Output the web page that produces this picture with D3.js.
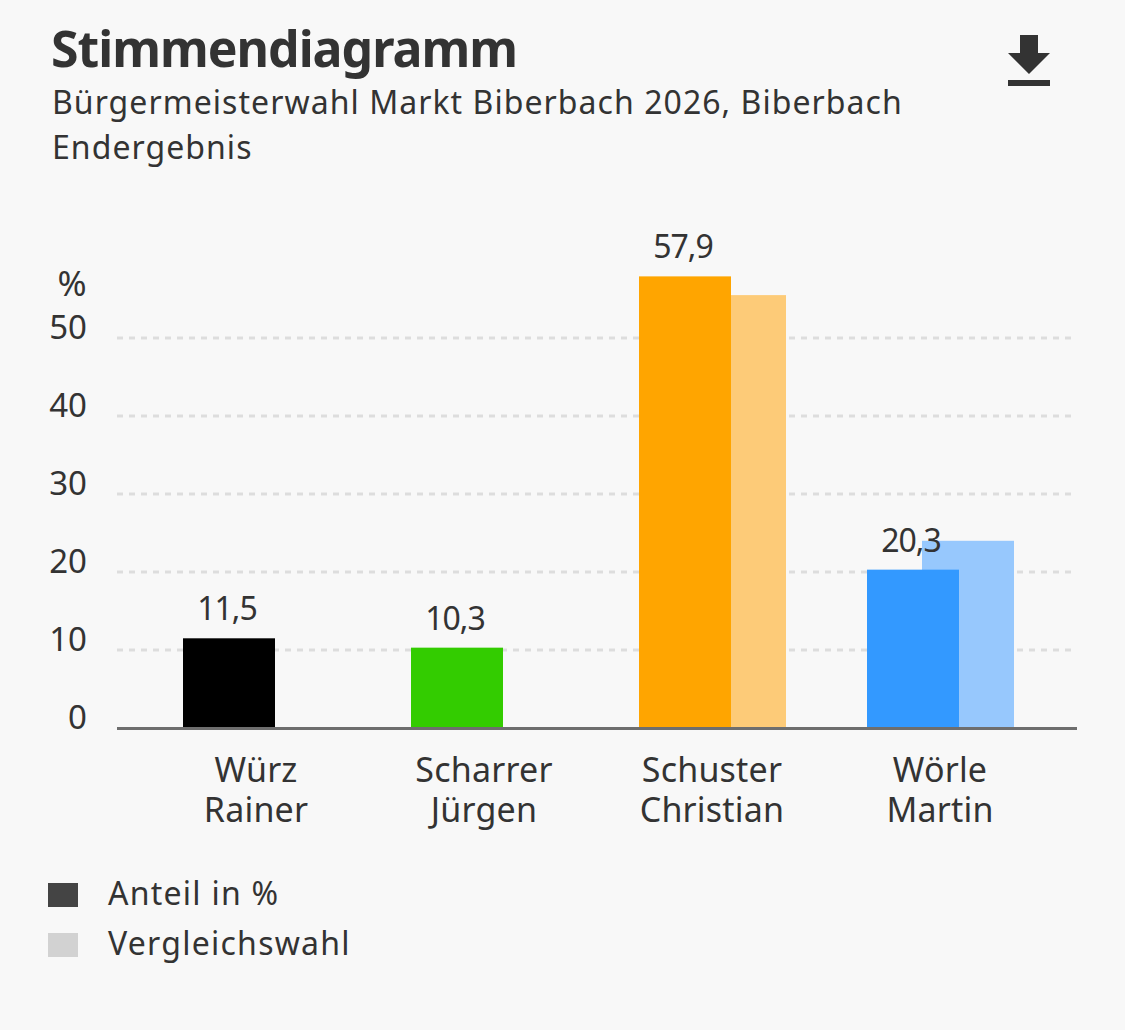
<!DOCTYPE html>
<html lang="de">
<head>
<meta charset="utf-8">
<script src="https://cdn.jsdelivr.net/npm/d3@7"></script>
<style>
  html, body { margin: 0; padding: 0; background: #f8f8f8; }
  svg { display: block; font-family: "Noto Sans", sans-serif; }
</style>
</head>
<body>
<div id="root"></div>
<script>
const candidates = [['Würz', 'Rainer'], ['Scharrer', 'Jürgen'], ['Schuster', 'Christian'], ['Wörle', 'Martin']];
const shares = [11.5, 10.3, 57.9, 20.3];
const shareLabels = ['11,5', '10,3', '57,9', '20,3'];
const comparison = [null, null, 55.5, 24.0];
const colors = ['#000000', '#33cc00', '#ffa500', '#3399ff'];
const lightColors = ['#808080', '#99e580', '#fdcb78', '#97c8fd'];
const yTicks = [0, 10, 20, 30, 40, 50];
const legendItems = ['Anteil in %', 'Vergleichswahl'];
const legendColors = ['#444444', '#d2d2d2'];

const w = 1125;
const h = 1030;
const barWidth = 92;
const compOffset = 55;
const textColor = '#333333';

const svg = d3.select('#root')
  .append('svg')
  .attr('width', w)
  .attr('height', h);

// scales
const xScale = d3.scaleBand()
  .domain(d3.range(candidates.length))
  .range([142.5, 1054.5]);

const yScale = d3.scaleLinear()
  .domain([0, 50])
  .range([728, 338]);

// title
svg.append('text')
  .attr('x', 51)
  .attr('y', 67)
  .attr('font-size', 50)
  .attr('font-weight', 700)
  .attr('letter-spacing', -1)
  .attr('fill', textColor)
  .text('Stimmendiagramm');

svg.append('text')
  .attr('x', 52)
  .attr('y', 114)
  .attr('font-size', 32)
  .attr('letter-spacing', 1.05)
  .attr('fill', textColor)
  .text('Bürgermeisterwahl Markt Biberbach 2026, Biberbach');

svg.append('text')
  .attr('x', 52)
  .attr('y', 159)
  .attr('font-size', 32)
  .attr('letter-spacing', 1.05)
  .attr('fill', textColor)
  .text('Endergebnis');

// download icon
const icon = svg.append('g').attr('fill', '#333333');
icon.append('path').attr('d', 'M1020 35 H1038 V53 H1050 L1029 74 L1008 53 H1020 Z');
icon.append('rect').attr('x', 1008).attr('y', 80).attr('width', 42).attr('height', 6);

// grid
svg.append('g')
  .selectAll('line')
  .data(yTicks.filter(d => d > 0))
  .enter()
  .append('line')
  .attr('x1', 117)
  .attr('x2', 1072)
  .attr('y1', d => yScale(d))
  .attr('y2', d => yScale(d))
  .attr('stroke', '#dddddd')
  .attr('stroke-width', 3)
  .attr('stroke-dasharray', '6 6');

// y axis labels
const yAxis = d3.axisLeft(yScale)
  .tickValues(yTicks)
  .tickSize(0)
  .tickPadding(0)
  .tickFormat(d3.format('d'));

const yAxisG = svg.append('g')
  .attr('transform', 'translate(87, -10)')
  .call(yAxis);
yAxisG.select('.domain').remove();
yAxisG.selectAll('text')
  .attr('font-family', '"Noto Sans", sans-serif')
  .attr('font-size', 33)
  .attr('fill', textColor);

svg.append('text')
  .attr('x', 72)
  .attr('y', 296)
  .attr('text-anchor', 'middle')
  .attr('font-size', 35)
  .attr('fill', textColor)
  .text('%');

// comparison bars go behind
svg.append('g')
  .selectAll('rect')
  .data(candidates.map((c, i) => i).filter(i => comparison[i] !== null))
  .enter()
  .append('rect')
  .attr('x', i => xScale(i) + 40.5 + compOffset)
  .attr('y', i => yScale(comparison[i]))
  .attr('width', barWidth)
  .attr('height', i => yScale(0) - yScale(comparison[i]))
  .attr('fill', i => lightColors[i]);

// main bars
svg.append('g')
  .selectAll('rect')
  .data(shares)
  .enter()
  .append('rect')
  .attr('x', (d, i) => xScale(i) + 40.5)
  .attr('y', d => yScale(d))
  .attr('width', barWidth)
  .attr('height', d => yScale(0) - yScale(d))
  .attr('fill', (d, i) => colors[i]);

// baseline
svg.append('line')
  .attr('x1', 117)
  .attr('x2', 1077)
  .attr('y1', yScale(0) + 0.5)
  .attr('y2', yScale(0) + 0.5)
  .attr('stroke', '#6e6e6e')
  .attr('stroke-width', 3);

// value labels
svg.append('g')
  .selectAll('text')
  .data(shares)
  .enter()
  .append('text')
  .attr('x', (d, i) => xScale(i) + 40.5 + barWidth / 2 - 2)
  .attr('y', d => yScale(d) - 18)
  .attr('text-anchor', 'middle')
  .attr('font-size', 32)
  .attr('letter-spacing', -1)
  .attr('fill', textColor)
  .text((d, i) => shareLabels[i]);

// category labels
const catLabels = svg.append('g')
  .selectAll('text')
  .data(candidates)
  .enter()
  .append('text')
  .attr('text-anchor', 'middle')
  .attr('font-size', 34)
  .attr('letter-spacing', 0.2)
  .attr('fill', textColor);

catLabels.append('tspan')
  .attr('x', (d, i) => xScale(i) + xScale.bandwidth() / 2 - 0.5)
  .attr('y', 782)
  .text(d => d[0]);

catLabels.append('tspan')
  .attr('x', (d, i) => xScale(i) + xScale.bandwidth() / 2 - 0.5)
  .attr('y', 822)
  .text(d => d[1]);

// legend
const legend = svg.append('g')
  .selectAll('g')
  .data(legendItems)
  .enter()
  .append('g')
  .attr('transform', (d, i) => `translate(48, ${883 + i * 50})`);

legend.append('rect')
  .attr('width', 30)
  .attr('height', 24)
  .attr('fill', (d, i) => legendColors[i]);

legend.append('text')
  .attr('x', 60)
  .attr('y', 22)
  .attr('font-size', 32)
  .attr('letter-spacing', 1.25)
  .attr('fill', textColor)
  .text(d => d);
</script>
</body>
</html>
